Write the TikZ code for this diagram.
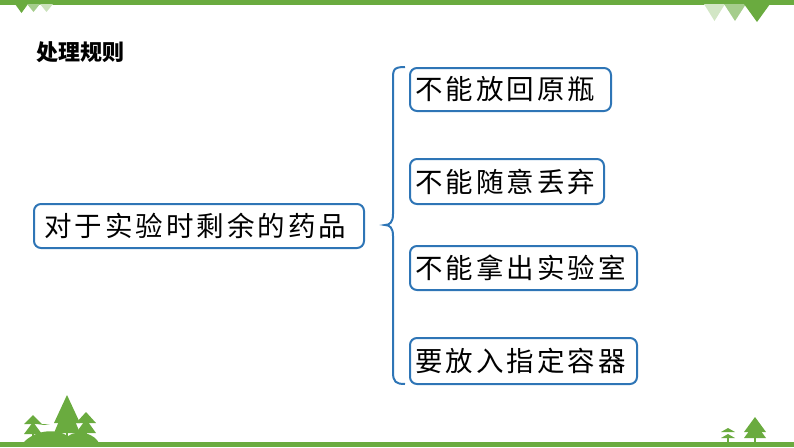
\documentclass[tikz,border=0pt]{standalone}
\usepackage{fontspec}
\setmainfont{Noto Sans CJK SC}
\begin{document}
\begin{tikzpicture}[x=1pt,y=-1pt,
  box/.style={line width=2pt,rounded corners=7pt,inner sep=0pt,anchor=north west},
  txt/.style={anchor=west,inner sep=0pt,font=\fontsize{27.5}{29}\selectfont\addfontfeature{LetterSpace=11}}]
\definecolor{gg}{HTML}{6AAB3F}
\definecolor{bb}{HTML}{2E75B6}
\useasboundingbox (0,0) rectangle (794,447);
\fill[gg] (0,0) rectangle (794,4.5);
\fill[gg] (0,441.5) rectangle (794,447);
% top triangles
\fill[gg] (15,4) -- (28,4) -- (21.5,13) -- cycle;
\fill[gg!60] (27,4) -- (40,4) -- (33.5,12) -- cycle;
\fill[gg!35] (40,4) -- (53,4) -- (46.5,12) -- cycle;
\fill[gg!30] (704,4) -- (725,4) -- (714.5,21) -- cycle;
\fill[gg!60] (724,4) -- (746,4) -- (735,21) -- cycle;
\fill[gg] (744,4) -- (770,4) -- (757,22) -- cycle;
% trees left
\fill[gg] (23,443) .. controls (35,430) and (55,428) .. (68,436) .. controls (80,428) and (95,435) .. (99,443) -- cycle;
\foreach \x/\t/\b/\w in {33/415/438/9, 67/395/437/13, 86/412/437/10, 44/425/438/6}{
  \fill[gg] (\x-\w,\b-14) -- (\x,\t) -- (\x+\w,\b-14) -- cycle;
  \fill[gg] (\x-\w,\b-4) -- (\x,\t+7) -- (\x+\w,\b-4) -- cycle;
  \fill[gg] (\x-1,\b-5) rectangle (\x+1,\b);}
\foreach \x/\t/\b/\w in {728/428/442/7, 755/417/442/11}{
  \fill[gg] (\x-\w,\b-10) -- (\x,\t) -- (\x+\w,\b-10) -- cycle;
  \fill[gg] (\x-\w,\b-4) -- (\x,\t+6) -- (\x+\w,\b-4) -- cycle;
  \fill[gg] (\x-1,\b-5) rectangle (\x+1,\b);}
\node[anchor=west,font=\fontsize{22}{24}\selectfont\bfseries] (title) at (33,52) {处理规则};
\tikzset{box/.append style={draw=bb}}
\node[box,minimum width=330pt,minimum height=44pt] (main) at (33,203) {};
\node[box,minimum width=201pt,minimum height=43pt] (a) at (409,67) {};
\node[box,minimum width=194pt,minimum height=45pt] (b) at (409,158) {};
\node[box,minimum width=227pt,minimum height=44pt] (c) at (409,245) {};
\node[box,minimum width=227pt,minimum height=46pt] (d) at (409,337) {};
\node[txt] (mt) at ([xshift=11pt]main.west) {对于实验时剩余的药品};
\node[txt] (at) at ([xshift=6pt]a.west) {不能放回原瓶};
\node[txt] (bt) at ([xshift=6pt]b.west) {不能随意丢弃};
\node[txt] (ct) at ([xshift=6pt]c.west) {不能拿出实验室};
\node[txt] (dt) at ([xshift=6pt]d.west) {要放入指定容器};
\draw[bb,line width=2pt] (405,67) .. controls (393,67) and (393,70) .. (393,80)
  -- (393,214) .. controls (393,222) and (390,225) .. (385,225)
  .. controls (390,225) and (393,228) .. (393,236)
  -- (393,372) .. controls (393,382) and (396,384) .. (405,384);
\end{tikzpicture}
\end{document}
